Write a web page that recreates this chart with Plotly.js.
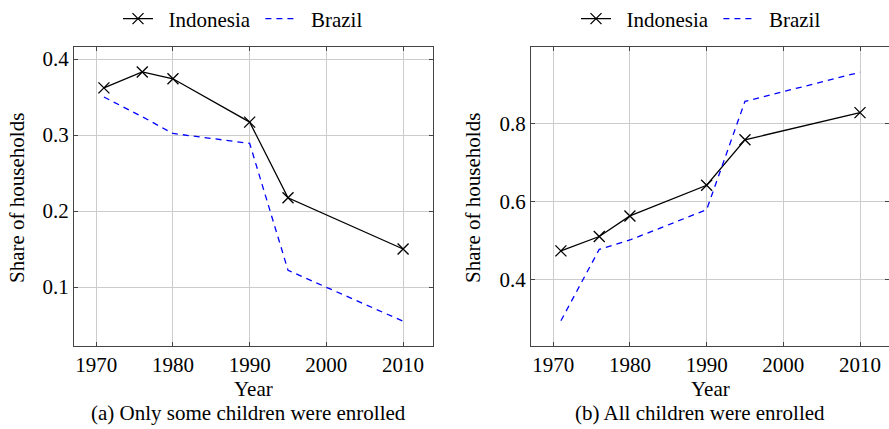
<!DOCTYPE html>
<html>
<head>
<meta charset="utf-8">
<script src="https://cdn.plot.ly/plotly-3.0.1.min.js"></script>
<style>html,body{margin:0;padding:0;background:#fff;}#chart{width:889px;height:429px;}</style>
</head>
<body>
<div id="chart"></div>
<script>
const years = [1971, 1976, 1980, 1990, 1995, 2010];
const indonesiaSome = [0.362, 0.383, 0.374, 0.317, 0.2175, 0.150];
const brazilSome = [0.350, 0.324, 0.302, 0.289, 0.122, 0.055];
const indonesiaAll = [0.473, 0.510, 0.563, 0.642, 0.759, 0.829];
const brazilAll = [0.293, 0.477, 0.501, 0.579, 0.858, 0.933];
const xTicks = [1970, 1980, 1990, 2000, 2010];
const yTicksSome = [0.1, 0.2, 0.3, 0.4];
const yTicksAll = [0.4, 0.6, 0.8];
const seriesNames = ['Indonesia', 'Brazil'];
const captions = ['(a) Only some children were enrolled', '(b) All children were enrolled'];

const FONT = 'Liberation Serif';
const W = 889, H = 429;
const NB = '\u00a0';
const legName = [NB + NB + seriesNames[0] + NB, NB + NB + seriesNames[1]];
const indoStyle = {color: '#000', width: 1.3};
const indoMarker = {symbol: 'x-thin-open', size: 11, color: '#000', line: {color: '#000', width: 1.3}};
const brStyle = {color: '#0000ff', width: 1.3, dash: '6px,5px'};

const traces = [
  {x: years, y: indonesiaSome, name: legName[0], mode: 'lines+markers', line: indoStyle, marker: indoMarker, xaxis: 'x', yaxis: 'y', legend: 'legend'},
  {x: years, y: brazilSome, name: legName[1], mode: 'lines', line: brStyle, xaxis: 'x', yaxis: 'y', legend: 'legend'},
  {x: years, y: indonesiaAll, name: legName[0], mode: 'lines+markers', line: indoStyle, marker: indoMarker, xaxis: 'x2', yaxis: 'y2', legend: 'legend2'},
  {x: years, y: brazilAll, name: legName[1], mode: 'lines', line: brStyle, xaxis: 'x2', yaxis: 'y2', legend: 'legend2'}
];

const yDom = [1 - 346 / H, 1 - 47 / H];
function xAxis(domain, range, anchor) {
  return {domain: domain, range: range, anchor: anchor, tickvals: xTicks, ticktext: xTicks.map(String),
    showgrid: true, gridcolor: '#cccccc', gridwidth: 1, zeroline: false,
    showline: true, linecolor: '#444', linewidth: 1, mirror: 'ticks',
    ticks: 'inside', ticklen: 4, tickcolor: '#444', tickfont: {family: FONT, size: 21, color: '#000'}};
}
function yAxis(range, tickvals, anchor) {
  return {domain: yDom, range: range, anchor: anchor, tickvals: tickvals, ticktext: tickvals.map(v => v.toFixed(1)),
    showgrid: true, gridcolor: '#cccccc', gridwidth: 1, zeroline: false,
    showline: true, linecolor: '#444', linewidth: 1, mirror: 'ticks',
    ticks: 'inside', ticklen: 4, tickcolor: '#444', tickfont: {family: FONT, size: 21, color: '#000'}};
}
const legendBase = {orientation: 'h', yanchor: 'middle', y: 1 - 19 / H, xanchor: 'center',
  font: {family: FONT, size: 21, color: '#000'}, bgcolor: 'rgba(0,0,0,0)', itemwidth: 30};

const ann = (text, x, y, angle) => ({text: text, x: x / W, y: 1 - y / H, xref: 'paper', yref: 'paper',
  showarrow: false, xanchor: 'center', yanchor: 'middle', textangle: angle || 0,
  font: {family: FONT, size: 21, color: '#000'}});

const layout = {
  width: W, height: H, margin: {l: 0, r: 0, t: 0, b: 0, autoexpand: false},
  font: {family: FONT, size: 21, color: '#000'},
  paper_bgcolor: '#fff', plot_bgcolor: '#fff', showlegend: true,
  xaxis: xAxis([74 / W, 433 / W], [1967.1, 2013.9], 'y'),
  yaxis: yAxis([0.0224, 0.4158], yTicksSome, 'x'),
  xaxis2: xAxis([531 / W, 1], [1967.1, 2013.78], 'y2'),
  yaxis2: yAxis([0.228, 0.998], yTicksAll, 'x2'),
  legend: Object.assign({}, legendBase, {x: 243 / W}),
  legend2: Object.assign({}, legendBase, {x: 701 / W}),
  annotations: [
    ann('Year', 253, 389), ann(captions[0], 248, 413),
    ann('Year', 710, 389), ann(captions[1], 700, 413),
    ann('Share of households', 17, 198, -90), ann('Share of households', 473, 198, -90)
  ]
};
Plotly.newPlot('chart', traces, layout, {staticPlot: true, displayModeBar: false});
</script>
</body>
</html>
